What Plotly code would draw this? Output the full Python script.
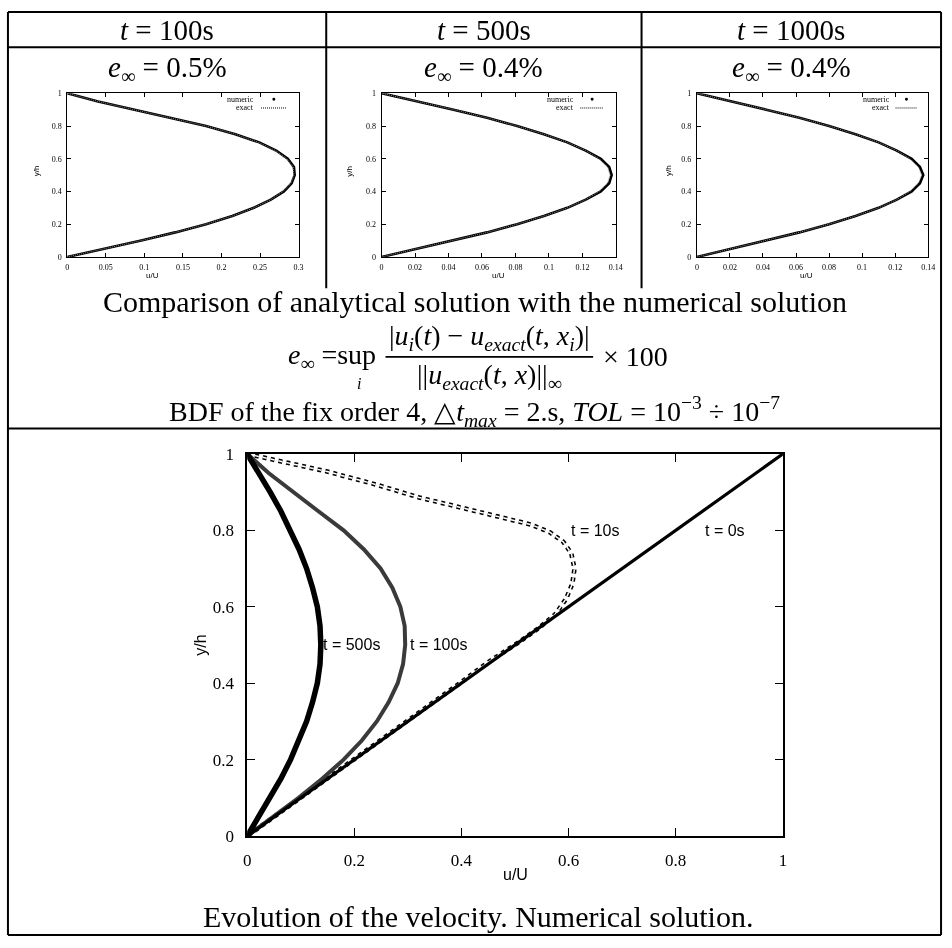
import plotly.graph_objects as go

W, H = 952, 948

# ------------------------------------------------------------------ data
y_grid = [0.0, 0.05, 0.1, 0.15, 0.2, 0.25, 0.3, 0.35, 0.4, 0.45, 0.5,
          0.55, 0.6, 0.65, 0.7, 0.75, 0.8, 0.85, 0.9, 0.95, 1.0]

u_t100_numeric = [0.0, 0.049, 0.096, 0.140, 0.180, 0.214, 0.242, 0.264, 0.281, 0.291, 0.295,
                  0.294, 0.286, 0.271, 0.249, 0.218, 0.180, 0.133, 0.085, 0.040, 0.0]
u_t100_exact = [0.0, 0.049, 0.096, 0.140, 0.180, 0.214, 0.242, 0.264, 0.280, 0.290, 0.294,
                0.293, 0.285, 0.270, 0.248, 0.218, 0.180, 0.133, 0.085, 0.040, 0.0]
u_t500_numeric = [0.0, 0.021, 0.043, 0.063, 0.081, 0.097, 0.111, 0.122, 0.131, 0.136, 0.1375,
                  0.136, 0.131, 0.122, 0.111, 0.097, 0.081, 0.063, 0.043, 0.021, 0.0]
u_t500_exact = [0.0, 0.021, 0.043, 0.063, 0.081, 0.097, 0.111, 0.122, 0.130, 0.135, 0.1365,
                0.135, 0.130, 0.122, 0.111, 0.097, 0.081, 0.063, 0.043, 0.021, 0.0]
u_t1000_numeric = [0.0, 0.021, 0.042, 0.062, 0.080, 0.096, 0.110, 0.121, 0.130, 0.135, 0.137,
                   0.135, 0.130, 0.121, 0.110, 0.096, 0.080, 0.062, 0.042, 0.021, 0.0]
u_t1000_exact = [0.0, 0.021, 0.042, 0.062, 0.080, 0.096, 0.110, 0.121, 0.129, 0.134, 0.136,
                 0.134, 0.129, 0.121, 0.110, 0.096, 0.080, 0.062, 0.042, 0.021, 0.0]

t0_u = [0.0, 0.5, 1.0]
t0_y = [0.0, 0.5, 1.0]
t10_u = [0.0, 0.07, 0.149, 0.24, 0.321, 0.41, 0.48, 0.53, 0.565, 0.59, 0.605, 0.611,
         0.607, 0.595, 0.575, 0.545, 0.51, 0.45, 0.40, 0.30, 0.20, 0.10, 0.0]
t10_y = [1.0, 0.978, 0.954, 0.92, 0.886, 0.856, 0.833, 0.815, 0.795, 0.77, 0.74, 0.70,
         0.66, 0.62, 0.58, 0.545, 0.51, 0.455, 0.403, 0.302, 0.201, 0.10, 0.0]
t100_u = u_t100_numeric
t500_u = u_t500_numeric

big_ticks = [0, 0.2, 0.4, 0.6, 0.8, 1]
big_tick_text = ["0", "0.2", "0.4", "0.6", "0.8", "1"]
small_y_ticks = [0, 0.2, 0.4, 0.6, 0.8, 1]
small_y_text = ["0", "0.2", "0.4", "0.6", "0.8", "1"]
p1_x_ticks = [0, 0.05, 0.1, 0.15, 0.2, 0.25, 0.3]
p1_x_text = ["0", "0.05", "0.1", "0.15", "0.2", "0.25", "0.3"]
p23_x_ticks = [0, 0.02, 0.04, 0.06, 0.08, 0.1, 0.12, 0.14]
p23_x_text = ["0", "0.02", "0.04", "0.06", "0.08", "0.1", "0.12", "0.14"]

header_labels = ["<i>t</i> = 100s", "<i>t</i> = 500s", "<i>t</i> = 1000s"]
error_labels = ["<i>e</i><sub>∞</sub> = 0.5%", "<i>e</i><sub>∞</sub> = 0.4%", "<i>e</i><sub>∞</sub> = 0.4%"]
curve_labels = ["t = 0s", "t = 10s", "t = 100s", "t = 500s"]

# ------------------------------------------------------------------ helpers
SERIF = "Liberation Serif"
SANS = "Liberation Sans"


def px(x):
    return x / W


def py(y):
    return 1 - y / H


fig = go.Figure()

# ---------------- big plot traces
fig.add_trace(go.Scatter(x=t10_u, y=t10_y, mode="lines", xaxis="x", yaxis="y",
                         line=dict(color="black", width=4.6, dash="4px,4px")))
fig.add_trace(go.Scatter(x=t10_u, y=t10_y, mode="lines", xaxis="x", yaxis="y",
                         line=dict(color="white", width=1.5, dash="4px,4px")))
fig.add_trace(go.Scatter(x=t100_u, y=y_grid, mode="lines", xaxis="x", yaxis="y",
                         line=dict(color="#3a3a3a", width=4)))
fig.add_trace(go.Scatter(x=t500_u, y=y_grid, mode="lines", xaxis="x", yaxis="y",
                         line=dict(color="black", width=5.5)))
fig.add_trace(go.Scatter(x=t0_u, y=t0_y, mode="lines", xaxis="x", yaxis="y",
                         line=dict(color="black", width=3.2)))

# ---------------- small plots
small_sets = [(u_t100_numeric, u_t100_exact), (u_t500_numeric, u_t500_exact),
              (u_t1000_numeric, u_t1000_exact)]
for i, (un, ue) in enumerate(small_sets):
    a = str(i + 2)
    fig.add_trace(go.Scatter(x=un, y=y_grid, mode="lines", xaxis="x" + a, yaxis="y" + a,
                             line=dict(color="black", width=2.6)))
    fig.add_trace(go.Scatter(x=ue, y=y_grid, mode="lines", xaxis="x" + a, yaxis="y" + a,
                             line=dict(color="#888888", width=1, dash="1px,1px")))


def axis(dom, rng, tv, tt, fsize, tlen, lw, standoff, anchor):
    return dict(domain=dom, range=rng, tickvals=tv, ticktext=tt, showline=True,
                linecolor="black", linewidth=lw, mirror="ticks", ticks="inside",
                ticklen=tlen, tickwidth=1, tickcolor="black", showgrid=False,
                zeroline=False, tickfont=dict(family=SERIF, size=fsize, color="black"),
                ticklabelstandoff=standoff, anchor=anchor, fixedrange=True)


layout = dict(
    width=W, height=H, margin=dict(l=0, r=0, t=0, b=0),
    paper_bgcolor="white", plot_bgcolor="white", showlegend=False,
    xaxis=axis([px(246), px(788)], [0, 1], big_ticks, big_tick_text, 17, 8, 1.5, 8, "y"),
    yaxis=axis([py(844), py(454)], [0, 1], big_ticks, big_tick_text, 17, 8, 1.5, 8, "x"),
)
small_x = [(64, 298), (382, 619), (701, 935)]
small_rng = [[0, 0.3], [0, 0.14], [0, 0.14]]
small_tv = [(p1_x_ticks, p1_x_text), (p23_x_ticks, p23_x_text), (p23_x_ticks, p23_x_text)]
for i in range(3):
    a = str(i + 2)
    x0, x1 = small_x[i]
    layout["xaxis" + a] = axis([px(x0), px(x1)], small_rng[i], small_tv[i][0], small_tv[i][1],
                               8, 4, 1, 2, "y" + a)
    layout["yaxis" + a] = axis([py(253), py(86)], [0, 1], small_y_ticks, small_y_text,
                               8, 4, 1, 3, "x" + a)
fig.update_layout(**layout)

# ---------------- table rules
lines = [
    (4, 3, 948, 3), (4, 945, 948, 945), (4, 3, 4, 945), (948, 3, 948, 945),
    (4, 39, 948, 39),
    (326, 3, 326, 285), (645, 3, 645, 285),
    (4, 428, 948, 428),
]
for (x0, y0, x1, y1) in lines:
    fig.add_shape(type="line", xref="paper", yref="paper", x0=px(x0), y0=py(y0),
                  x1=px(x1), y1=py(y1), line=dict(color="black", width=2))

ann = []


def text(x, y, s, size, family=SERIF, xanchor="center", angle=0):
    ann.append(dict(x=px(x), y=py(y), xref="paper", yref="paper", text=s, showarrow=False,
                    xanchor=xanchor, yanchor="middle", textangle=angle,
                    font=dict(family=family, size=size, color="black")))


col_centers = [165, 485.5, 796.5]
for c, h, e in zip(col_centers, header_labels, error_labels):
    text(c, 21, h, 29)
    text(c, 61, e, 29)

# small plot axis titles and legends
ylab_x = [33, 350, 672]
ulab_x = [150, 500, 812]
leg_txt_r = [255, 579, 898]
leg_dot = [273, 595, 913]
leg_line = [(260, 286), (583, 606), (902, 924)]
for i in range(3):
    text(ulab_x[i], 272, "u/U", 8, SANS)
    text(ylab_x[i], 165, "y/h", 8, SANS, angle=-90)
    text(leg_txt_r[i], 92, "numeric", 8, SERIF, xanchor="right")
    text(leg_txt_r[i], 101, "exact", 8, SERIF, xanchor="right")
    fig.add_shape(type="circle", xref="paper", yref="paper",
                  x0=px(leg_dot[i] - 1.5), x1=px(leg_dot[i] + 1.5),
                  y0=py(92 + 1.5), y1=py(92 - 1.5), fillcolor="black",
                  line=dict(color="black", width=0))
    fig.add_shape(type="line", xref="paper", yref="paper",
                  x0=px(leg_line[i][0]), x1=px(leg_line[i][1]), y0=py(101), y1=py(101),
                  line=dict(color="black", width=1, dash="1px,1px"))

# captions / formula
text(476, 298, "Comparison of analytical solution with the numerical solution", 30)
BAR = 355
text(378, BAR, "<i>e</i><sub>∞</sub> =sup", 28, xanchor="right")
text(359, BAR + 27, "<i>i</i>", 16)
text(491, BAR - 20, "|<i>u<sub>i</sub></i>(<i>t</i>) − <i>u<sub>exact</sub></i>(<i>t</i>, <i>x<sub>i</sub></i>)|", 28)
text(491, BAR + 20, "||<i>u<sub>exact</sub></i>(<i>t</i>, <i>x</i>)||<sub>∞</sub>", 28)
fig.add_shape(type="line", xref="paper", yref="paper", x0=px(386), x1=px(596),
              y0=py(BAR), y1=py(BAR), line=dict(color="black", width=1.6))
text(604, BAR, "× 100", 28, xanchor="left")
text(476, 411, "BDF of the fix order 4, △<i>t<sub>max</sub></i> = 2.s, <i>TOL</i> = 10<sup>−3</sup> ÷ 10<sup>−7</sup>", 28)

# big plot labels
text(517, 883, "u/U", 16, SANS)
text(199, 649, "y/h", 16, SANS, angle=-90)
text(480, 926, "Evolution of the velocity. Numerical solution.", 30)

label_pos = [(0.85, 0.8), (0.6, 0.8), (0.3, 0.5), (0.137, 0.5)]
for s, (lx, ly) in zip(curve_labels, label_pos):
    ann.append(dict(x=lx, y=ly, xref="x", yref="y", text=s, showarrow=False,
                    xanchor="left", yanchor="middle",
                    font=dict(family=SANS, size=16, color="black")))

fig.update_layout(annotations=ann)
fig.write_html("out.html", config={"displayModeBar": False},
               post_script="document.body.style.margin='0px';"
                           "document.body.style.padding='0px';"
                           "document.body.style.overflow='hidden';"
                           "document.querySelectorAll('.main-svg').forEach(function(s){"
                           "s.style.willChange='transform';});")
